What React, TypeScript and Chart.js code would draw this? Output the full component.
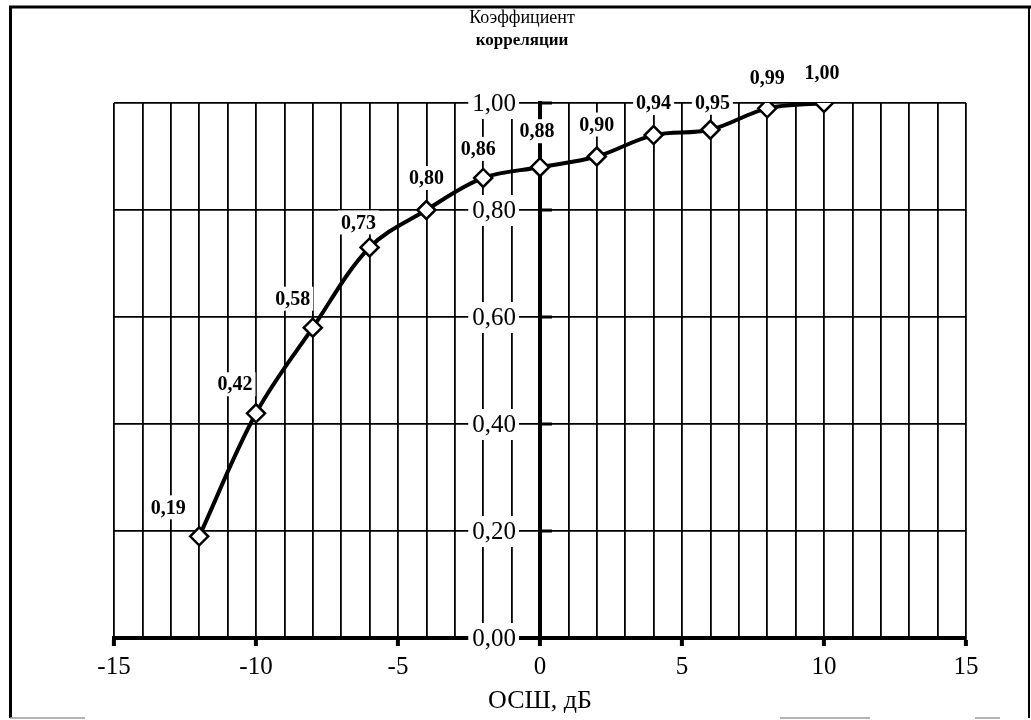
import React, { useEffect, useRef } from 'react';
import { Chart, registerables } from 'chart.js';

Chart.register(...registerables);

// ---- data ----
const SNR_DB = [-12, -10, -8, -6, -4, -2, 0, 2, 4, 6, 8, 10];
const CORRELATION = [0.19, 0.42, 0.58, 0.73, 0.8, 0.86, 0.88, 0.9, 0.94, 0.95, 0.99, 1.0];
const X_LABELED_TICKS = [-15, -10, -5, 0, 5, 10, 15];
const Y_TITLE_LINES = ['Коэффициент', 'корреляции'];
const X_TITLE = 'ОСШ, дБ';
// label placement offsets (px) relative to each point
const LABEL_OFFSETS: [number, number][] = [
  [-31, -29], [-21, -29], [-20, -29], [-11, -25], [0, -32], [-5, -29],
  [-3, -36], [0, -32], [0, -32], [2, -27], [0, -31], [-2, -30],
];

const SERIF = '"Liberation Serif", "Times New Roman", "DejaVu Serif", serif';
const fmt = (v: number) => v.toFixed(2).replace('.', ',');

const overlayPlugin = {
  id: 'overlay',
  beforeDatasetsDraw(chart: any) {
    const ctx = chart.ctx;
    const y = chart.scales.y;
    const x = chart.scales.x;
    const axisX = x.getPixelForValue(0);
    ctx.save();
    ctx.font = `25px ${SERIF}`;
    ctx.textAlign = 'right';
    ctx.textBaseline = 'middle';
    y.ticks.forEach((t: any) => {
      const py = y.getPixelForValue(t.value);
      const text = fmt(t.value);
      const w = ctx.measureText(text).width;
      const right = axisX - 24;
      ctx.fillStyle = '#fff';
      ctx.fillRect(right - w - 4, py - 15, w + 7, 31);
      ctx.fillStyle = '#000';
      ctx.fillText(text, right, py + 1);
      // small tick to the right of the axis
      ctx.fillRect(axisX, py - 1.5, 12, 3);
    });
    ctx.restore();
  },
  afterDatasetsDraw(chart: any) {
    const ctx = chart.ctx;
    const meta = chart.getDatasetMeta(0);
    ctx.save();
    ctx.font = `bold 20px ${SERIF}`;
    ctx.textAlign = 'center';
    ctx.textBaseline = 'middle';
    meta.data.forEach((pt: any, i: number) => {
      const [dx, dy] = LABEL_OFFSETS[i];
      const text = fmt(CORRELATION[i]);
      const w = ctx.measureText(text).width;
      const cx = pt.x + dx;
      const cy = pt.y + dy;
      ctx.fillStyle = '#fff';
      ctx.fillRect(cx - w / 2 - 3, cy - 12, w + 6, 24);
      ctx.fillStyle = '#000';
      ctx.fillText(text, cx, cy + 1);
    });
    ctx.restore();
  },
  afterDraw(chart: any) {
    const ctx = chart.ctx;
    const axisX = chart.scales.x.getPixelForValue(0);
    ctx.save();
    // y-axis title
    ctx.textAlign = 'center';
    ctx.textBaseline = 'middle';
    ctx.fillStyle = '#000';
    ctx.font = `18px ${SERIF}`;
    ctx.fillText(Y_TITLE_LINES[0], axisX - 18, 18);
    ctx.font = `bold 17px ${SERIF}`;
    ctx.fillText(Y_TITLE_LINES[1], axisX - 18, 41);
    // outer frame
    ctx.strokeStyle = '#000';
    ctx.lineWidth = 3;
    ctx.beginPath();
    ctx.moveTo(10.5, 718);
    ctx.lineTo(10.5, 7);
    ctx.lineTo(1031, 7);
    ctx.stroke();
    ctx.lineWidth = 2;
    ctx.beginPath();
    ctx.moveTo(1029, 6);
    ctx.lineTo(1029, 718);
    ctx.stroke();
    ctx.strokeStyle = '#9a9a9a';
    ctx.lineWidth = 1.5;
    ctx.beginPath();
    ctx.moveTo(10, 718);
    ctx.lineTo(85, 718);
    ctx.moveTo(780, 718);
    ctx.lineTo(870, 718);
    ctx.moveTo(975, 718);
    ctx.lineTo(1000, 718);
    ctx.stroke();
    ctx.restore();
  },
};

export default function App() {
  const ref = useRef<HTMLCanvasElement | null>(null);

  useEffect(() => {
    if (!ref.current) return;
    const chart = new Chart(ref.current, {
      type: 'line',
      data: {
        datasets: [
          {
            data: SNR_DB.map((x, i) => ({ x, y: CORRELATION[i] })),
            borderColor: '#000',
            borderWidth: 4,
            tension: 0.35,
            pointStyle: 'rectRot',
            pointRadius: 9,
            pointBorderWidth: 2.5,
            pointBackgroundColor: '#fff',
            pointBorderColor: '#000',
            fill: false,
          },
        ],
      },
      options: {
        responsive: false,
        animation: false,
        events: [],
        layout: { padding: { left: 114, right: 65, top: 103, bottom: 1 } },
        plugins: { legend: { display: false }, tooltip: { enabled: false } },
        scales: {
          x: {
            type: 'linear',
            min: -15,
            max: 15,
            ticks: {
              stepSize: 1,
              autoSkip: false,
              maxRotation: 0,
              padding: 6,
              color: '#000',
              font: { family: SERIF, size: 25 },
              callback: (v: any) => (X_LABELED_TICKS.includes(Math.round(v)) ? String(Math.round(v)) : ''),
            },
            grid: {
              color: '#000',
              lineWidth: 1.8,
              tickLength: 8,
              tickWidth: 4,
              tickColor: (c: any) =>
                c.tick && X_LABELED_TICKS.includes(Math.round(c.tick.value)) ? '#000' : 'rgba(0,0,0,0)',
            },
            border: { color: '#000', width: 4 },
            title: {
              display: true,
              text: X_TITLE,
              color: '#000',
              font: { family: SERIF, size: 26, lineHeight: 1 },
              padding: { top: 0, bottom: 5 },
            },
          },
          y: {
            type: 'linear',
            min: 0,
            max: 1,
            position: { x: 0 } as any,
            ticks: { stepSize: 0.2, display: false },
            grid: { color: '#000', lineWidth: 1.8, drawTicks: false },
            border: { color: '#000', width: 4 },
          },
        },
      },
      plugins: [overlayPlugin],
    });
    return () => chart.destroy();
  }, []);

  return (
    <div style={{ position: 'absolute', left: 0, top: 0, width: 1031, height: 720, background: '#fff' }}>
      <canvas ref={ref} width={1031} height={720} style={{ display: 'block' }} />
    </div>
  );
}
